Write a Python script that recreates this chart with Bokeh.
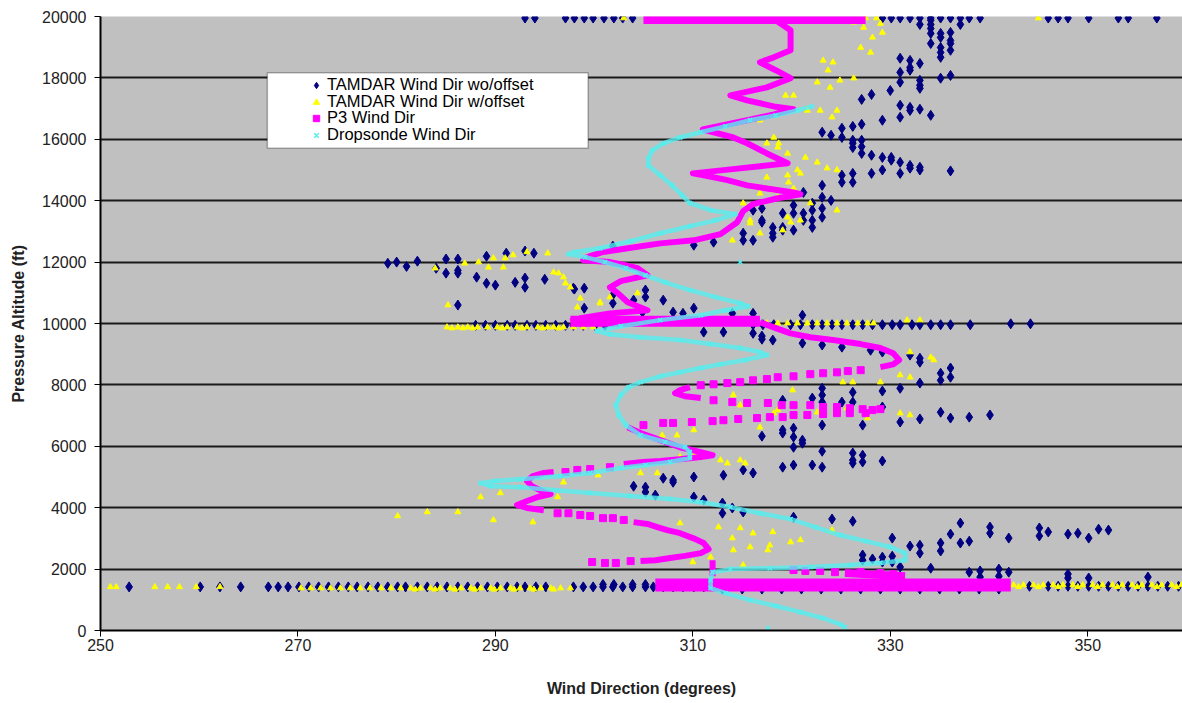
from bokeh.plotting import figure
from bokeh.models import (Range1d, FixedTicker, Legend, LegendItem, BoxAnnotation,
                          ColumnDataSource)
from bokeh.embed import file_html
from bokeh.resources import INLINE

# ---------------- data (wind direction deg, pressure altitude ft) ----------------
X_TICKS = [250, 270, 290, 310, 330, 350]
Y_TICKS = list(range(0, 20001, 2000))
SERIES_NAMES = ["TAMDAR Wind Dir wo/offset", "TAMDAR Wind Dir w/offset",
                "P3 Wind Dir", "Dropsonde Wind Dir"]

TAMDAR_WO = [
    # 20000 ft row
    (293.0, 19950), (294.0, 19950), (297.1, 19950), (298.0, 19950), (299.0, 19950), (299.9, 19950),
    (301.0, 19950), (302.0, 19950), (302.9, 19950), (303.9, 19950), (329.2, 19950), (330.1, 19950),
    (331.0, 19950), (332.0, 19950), (333.0, 19950), (334.1, 19950), (335.1, 19950), (336.1, 19950),
    (337.1, 19950), (338.0, 19950), (339.1, 19950), (346.0, 19950), (347.0, 19950), (348.0, 19950),
    (350.1, 19950), (353.1, 19950), (354.1, 19950), (357.0, 19950),
    # 12000-20000 ft
    (333.0, 19740), (334.1, 19880), (334.1, 19740), (334.1, 19610), (334.1, 19450), (334.1, 19120),
    (335.1, 19450), (335.1, 19320), (335.1, 18990), (335.1, 18830), (335.1, 18670), (336.1, 19480),
    (336.1, 19220), (336.1, 19120), (336.1, 18900), (337.1, 19740), (331.0, 18640), (331.0, 18180),
    (331.0, 17860), (332.0, 18570), (332.0, 18340), (332.0, 18250), (333.0, 18470), (333.0, 17920),
    (333.0, 17760), (333.0, 17660), (335.1, 17990), (336.1, 18080), (330.0, 17590), (331.0, 17110),
    (332.0, 17040), (332.0, 16940), (333.0, 16980), (334.1, 16780), (331.0, 16720), (329.2, 16620),
    (327.1, 17300), (328.1, 17460),
    (323.1, 16230), (324.0, 16130), (325.1, 16360), (325.1, 16060), (326.2, 16420), (326.2, 15970),
    (326.2, 15870), (326.2, 15730), (327.1, 16490), (327.1, 15970), (327.1, 15760), (327.1, 15540),
    (328.1, 15480), (329.2, 15410), (329.2, 15000), (330.1, 15410), (330.1, 15320), (331.0, 15250),
    (331.0, 14890), (332.0, 15150), (332.0, 15060), (333.0, 15090), (333.0, 15000), (336.1, 14970),
    (325.1, 14830), (325.1, 14600), (326.2, 14890), (326.2, 14600), (328.1, 14890),
    (323.1, 14500), (323.1, 14110), (321.2, 14270), (324.0, 14010), (323.1, 13750), (323.1, 13460),
    (322.1, 13920), (322.1, 13690), (322.1, 13360), (322.1, 13130), (321.2, 13590), (321.2, 13360),
    (320.2, 13850), (320.2, 13590), (320.2, 13040), (319.1, 13590), (319.1, 13130), (319.1, 13040),
    (318.1, 13130), (318.1, 12940), (318.1, 12810), (317.0, 13750), (317.0, 13360), (317.0, 13300),
    (316.1, 13690), (316.1, 12710), (315.1, 12940), (315.1, 12710), (312.1, 12650), (310.1, 12550),
    # 10000-12500 ft, left group
    (279.1, 11960), (280.0, 12000), (281.0, 11860), (282.1, 12030), (284.0, 11800), (285.0, 12100),
    (285.0, 11640), (286.2, 12100), (286.2, 11730), (286.2, 11640), (286.2, 10600), (288.1, 11510),
    (289.1, 12190), (289.1, 11310), (290.0, 11250), (291.1, 12290), (292.0, 11340), (293.0, 12360),
    (293.0, 11480), (293.0, 11180), (293.9, 12290), (295.0, 11440), (298.0, 11120), (299.0, 11150),
    (299.0, 10500), (301.9, 12520), (301.9, 10930), (301.9, 10660), (297.9, 11150), (305.2, 11090),
    (305.2, 10860), (304.0, 10760), (307.0, 10760), (304.9, 10370), (308.0, 10370), (309.0, 10330),
    (310.1, 10500), (314.0, 10330), (316.1, 10330), (321.1, 10270),
    # 10000 ft row
    (288.0, 9940), (289.0, 9940), (290.0, 9940), (291.2, 9940), (292.0, 9940), (293.2, 9940),
    (294.1, 9940), (295.1, 9940), (296.1, 9940), (297.1, 9940), (297.9, 9940), (298.9, 9940),
    (300.1, 9940), (301.1, 9940),
    (316.1, 9960), (317.1, 9960), (318.2, 9960), (319.9, 9960), (320.9, 9960), (322.1, 9960),
    (323.1, 9960), (324.1, 9960), (325.1, 9960), (326.2, 9960), (327.2, 9960), (328.2, 9960),
    (329.2, 9960), (330.2, 9960), (331.0, 9960), (332.2, 9960), (333.0, 9960), (334.1, 9960),
    (335.1, 9960), (336.1, 9960), (338.1, 9960), (342.2, 9990), (344.2, 9990),
    # 5000-10000 ft
    (311.1, 9720), (313.1, 9720), (316.1, 9680), (317.0, 9590), (317.0, 9490), (318.1, 9460),
    (321.1, 9360), (323.1, 9300), (325.1, 9230), (328.0, 9130), (329.2, 9070), (332.0, 8970),
    (333.0, 8870), (333.0, 8740), (335.1, 8380), (335.1, 8150), (336.1, 8550), (336.1, 8250),
    (333.0, 8060), (331.0, 7890), (329.2, 7800), (326.2, 7760), (326.2, 7440), (323.1, 7890),
    (323.1, 7670), (323.1, 7440), (322.1, 7570), (319.1, 7500), (325.1, 7440), (329.2, 7280),
    (331.0, 6790), (333.0, 6890), (335.1, 7110), (336.1, 6920), (338.0, 6950), (340.1, 7020),
    (317.0, 6330), (319.1, 6530), (319.1, 6430), (320.2, 6590), (320.2, 6300), (320.2, 5970),
    (321.1, 6200), (321.1, 6100), (323.1, 6690), (323.1, 5840), (327.2, 6690),
    (319.1, 5320), (320.2, 5390), (322.1, 5390), (323.1, 5320), (326.2, 5780), (326.2, 5550),
    (326.2, 5450), (327.2, 5710), (327.2, 5490), (329.2, 5520), (313.1, 5060), (315.1, 5230),
    (316.1, 5130),
    # 2000-5000 ft
    (307.0, 4960), (308.0, 4900), (310.1, 5000), (304.0, 4700), (305.2, 4670), (305.2, 4510),
    (306.2, 4410), (308.0, 4830), (310.1, 4350), (311.1, 4250), (313.0, 4150), (313.0, 3820),
    (314.0, 3990), (315.1, 3860), (320.2, 3690), (324.1, 3630), (326.2, 3560),
    (327.2, 2460), (327.2, 2290), (328.2, 2330), (329.2, 2390), (329.2, 2230), (330.2, 2420),
    (330.2, 2230), (330.2, 3010), (332.0, 2750), (333.0, 2780), (333.0, 2520), (335.1, 2850),
    (335.1, 2590), (336.1, 3140), (337.1, 3500), (337.1, 2850), (338.0, 2910), (340.1, 3370),
    (340.1, 3170), (342.0, 3010), (345.1, 3340), (345.1, 3080), (346.0, 3210), (348.0, 3140),
    (349.0, 3170), (350.1, 3010), (351.1, 3300), (352.1, 3270),
    (331.0, 2070), (334.1, 2030), (338.0, 1900), (339.1, 1940), (339.1, 1740), (341.0, 2000),
    (341.0, 1770), (342.0, 1900), (348.0, 1840), (348.0, 1710), (350.1, 1710), (356.1, 1740),
    # 1400 ft row
    (252.9, 1420), (260.1, 1420), (262.1, 1420), (264.2, 1420), (267.0, 1420), (268.0, 1420),
    (269.0, 1420), (270.1, 1420), (271.1, 1420), (272.1, 1420), (273.1, 1420), (274.1, 1420),
    (275.1, 1420), (276.0, 1420), (277.1, 1420), (278.1, 1420), (279.1, 1420), (280.1, 1420),
    (280.9, 1420), (282.1, 1420), (283.1, 1420), (284.1, 1420), (285.1, 1420), (286.2, 1420),
    (287.2, 1420), (288.2, 1420), (289.2, 1420), (290.2, 1420), (291.2, 1420), (292.2, 1420),
    (293.0, 1420), (294.1, 1420), (295.1, 1420), (297.9, 1420), (298.9, 1420), (299.9, 1420),
    (300.9, 1420), (301.9, 1420), (302.9, 1420), (303.9, 1420), (305.2, 1420), (306.0, 1420),
    (307.0, 1420), (308.0, 1420), (309.0, 1420), (310.1, 1420), (311.1, 1420),
    (300.9, 1500), (302.0, 1500), (303.9, 1500), (305.2, 1500),
    (313.0, 1350), (315.0, 1350), (317.0, 1350), (319.0, 1350), (321.0, 1350), (323.0, 1350),
    (325.0, 1350), (327.0, 1350), (329.0, 1350), (331.0, 1350), (333.0, 1350), (335.0, 1350),
    (337.0, 1350), (339.0, 1350), (341.0, 1350),
    (344.1, 1440), (346.0, 1440), (347.0, 1440), (348.0, 1440), (349.0, 1440), (350.1, 1440),
    (351.1, 1440), (352.1, 1440), (353.1, 1440), (354.1, 1440), (355.1, 1440), (356.1, 1440),
    (357.1, 1440), (358.1, 1440), (359.2, 1440),
]

TAMDAR_W = [
    (303.0, 19950), (327.5, 19950), (328.6, 19950), (345.0, 19950),
    (326.7, 19900), (326.3, 19810), (327.3, 19640), (328.2, 19320), (329.2, 19480), (329.0, 19770),
    (327.0, 18990), (328.0, 18830), (323.2, 18570), (324.2, 18510), (323.7, 18250), (324.9, 17920),
    (323.9, 17690), (326.3, 17990), (322.6, 17860), (320.2, 17430), (319.4, 17430), (321.6, 16940),
    (322.9, 16940), (324.6, 16940), (324.1, 16720), (316.8, 16620), (318.2, 16060), (317.5, 15870),
    (318.7, 15870), (321.4, 15410), (322.6, 15250), (318.6, 15740), (319.6, 15540), (323.6, 15060),
    (324.6, 15000), (320.9, 14890), (319.7, 14600), (316.8, 14240), (318.6, 14110), (321.9, 13920),
    (324.6, 13690), (315.8, 13360), (316.8, 12940), (314.0, 12710), (319.6, 13460), (320.9, 13360),
    (317.5, 14760), (319.6, 14830), (320.6, 15000), (318.2, 14340), (320.2, 14400), (315.1, 13920),
    (315.8, 13270), (319.1, 13040), (319.9, 13300),
    (296.9, 11510), (297.6, 11180), (300.6, 10660), (301.6, 10860), (304.4, 10990), (286.9, 11960),
    (288.3, 12000), (289.3, 11830), (289.8, 12130), (291.0, 12130), (291.8, 12230), (290.8, 11830),
    (293.2, 12330), (295.3, 12290), (295.9, 11670), (296.4, 11640), (297.1, 11310), (298.3, 10530),
    (298.6, 10820), (300.6, 10690), (285.2, 10600), (283.9, 11800),
    (285.1, 9880), (286.2, 9880), (287.2, 9880), (288.2, 9880), (289.2, 9880), (290.2, 9880),
    (291.2, 9880), (292.2, 9880), (293.2, 9880), (294.3, 9880), (295.3, 9880), (295.9, 9880),
    (296.9, 9880), (297.9, 9880), (298.9, 9880), (299.9, 9880),
    (285.6, 9850), (286.7, 9850), (287.7, 9850), (290.7, 9850), (292.7, 9850), (294.8, 9850),
    (296.4, 9850),
    (317.5, 10010), (318.6, 10010), (319.6, 10010), (320.6, 10010), (321.6, 10010), (322.6, 10010),
    (323.6, 10010), (324.6, 10010), (325.6, 10010), (326.7, 10010), (327.7, 10010), (328.3, 10010),
    (331.7, 10110), (333.0, 10110),
    (332.0, 9070), (334.1, 8900), (334.4, 8810), (331.0, 8320), (332.0, 8250), (329.0, 8090),
    (326.2, 8090), (320.1, 7830), (331.0, 7080), (332.0, 7020), (318.2, 7080), (316.8, 6620),
    (327.7, 6920), (312.8, 5550), (314.8, 5550), (313.5, 5450), (325.2, 8090), (322.6, 7110),
    (325.6, 7240), (318.6, 7180), (314.8, 7340), (314.1, 7670), (310.1, 6530), (306.9, 6360),
    (308.4, 6360), (311.1, 5710), (315.3, 5450),
    (312.6, 3370), (314.0, 3010), (314.8, 3340), (315.8, 2720), (317.8, 2780), (319.9, 2880),
    (320.9, 2950), (324.1, 3270), (308.7, 3500), (316.1, 3170), (318.1, 3210), (317.6, 2620),
    (314.1, 2620), (311.8, 2390), (310.0, 2230), (315.1, 2130), (280.1, 3730), (283.1, 3860),
    (286.2, 3860), (288.5, 4350), (289.8, 3600), (290.5, 4480), (293.8, 3530), (296.9, 4830),
    (296.3, 4350), (300.4, 5060), (304.7, 5130), (306.4, 5130), (308.7, 5650), (310.1, 5710),
    (251.0, 1420), (251.6, 1420), (255.5, 1420), (256.8, 1420), (258.0, 1420), (259.7, 1420),
    (262.1, 1420),
    (270.3, 1380), (271.3, 1380), (272.3, 1380), (273.3, 1380), (274.3, 1380), (275.3, 1380),
    (276.3, 1380), (277.3, 1380), (278.4, 1380), (279.4, 1380), (280.4, 1380), (281.4, 1380),
    (282.4, 1380), (283.4, 1380), (284.4, 1380), (285.4, 1380), (286.5, 1380), (287.5, 1380),
    (288.5, 1380), (289.5, 1380), (290.5, 1380), (291.5, 1380), (292.5, 1380), (293.5, 1380),
    (294.6, 1380), (295.6, 1380), (296.6, 1380), (297.6, 1380),
    (281.9, 1340), (283.9, 1340), (285.9, 1340), (287.9, 1340), (289.9, 1340), (291.9, 1340),
    (293.9, 1340), (295.9, 1340),
    (341.5, 1480), (342.5, 1480), (343.5, 1480), (344.5, 1480), (345.5, 1480), (346.5, 1480),
    (347.5, 1480), (348.5, 1480), (349.5, 1480), (350.5, 1480), (351.5, 1480), (352.5, 1480),
    (353.5, 1480), (354.5, 1480), (355.5, 1480), (356.5, 1480), (357.5, 1480), (358.5, 1480),
    (359.5, 1480),
    (343.0, 1420), (345.0, 1420), (347.0, 1420), (349.0, 1420), (351.0, 1420), (353.0, 1420),
    (355.0, 1420), (357.0, 1420), (359.0, 1420),
]

# P3 aircraft: continuous (dense) track pieces and isolated samples
P3_TRACKS = [
    [(305.0, 19900), (327.5, 19900)],
    [(318.4, 19880), (319.9, 19550), (319.9, 18900), (318.2, 18670), (316.8, 18510), (318.4, 18250),
     (319.9, 17990), (317.5, 17690), (313.8, 17430), (315.5, 17270), (318.2, 17070), (320.2, 16980),
     (318.2, 16810), (315.5, 16620), (311.0, 16320), (314.1, 16060), (315.5, 15870), (317.5, 15540),
     (319.6, 15220), (316.8, 15120), (313.8, 15020), (310.0, 14890), (311.1, 14830), (313.5, 14670),
     (315.5, 14500), (317.5, 14400), (320.2, 14270), (320.9, 14210), (318.6, 14080), (316.1, 13890),
     (315.1, 13660), (314.5, 13300), (312.8, 12910), (310.1, 12710), (306.7, 12610), (303.4, 12450),
     (300.9, 12330), (299.3, 12160), (298.9, 12060), (301.6, 12000), (302.7, 11930), (304.4, 11800),
     (305.4, 11570), (302.7, 11380), (301.6, 11180), (302.4, 10990), (303.4, 10690), (305.4, 10430),
     (301.6, 10330), (298.6, 10170), (297.6, 10070)],
    [(297.6, 10070), (316.8, 10070)],
    [(316.8, 10040), (318.4, 9850), (319.9, 9680), (321.9, 9550), (324.2, 9460), (327.0, 9330),
     (329.0, 9200), (330.3, 9030), (330.9, 8810), (330.3, 8670), (329.0, 8580)],
    [(309.7, 7930), (308.7, 7830), (308.2, 7730), (309.2, 7630), (310.8, 7570)],
    [(303.4, 6620), (304.7, 6430), (306.7, 6200), (308.7, 5970), (310.8, 5810), (312.0, 5710),
     (310.8, 5650), (308.7, 5580), (306.7, 5520), (305.0, 5490), (303.0, 5420)],
    [(295.9, 5160), (294.9, 5130), (293.8, 5030), (293.2, 4870), (293.7, 4700), (294.9, 4510),
     (295.6, 4440), (294.3, 4350), (293.2, 4220), (292.2, 4090), (293.2, 3990), (294.9, 3920)],
    [(304.0, 3530), (305.4, 3470), (306.4, 3370), (307.4, 3270), (308.7, 3170), (310.0, 3010),
     (311.1, 2850), (311.6, 2650), (310.8, 2520), (309.2, 2430), (307.7, 2360), (306.2, 2290),
     (304.7, 2260)],
    [(306.2, 1480), (342.2, 1480)],
    [(325.4, 1870), (331.5, 1770)],
    [(312.0, 2290), (312.0, 1770)],
]
P3_TRACK_WIDTHS = [9, 6, 11, 6, 6, 6, 6, 6, 13, 8, 6]

P3_POINTS = [
    (327.0, 8480), (325.7, 8450), (324.6, 8410), (323.2, 8380), (321.9, 8350), (320.2, 8280),
    (318.6, 8250), (317.5, 8190), (316.1, 8150), (314.8, 8090), (313.5, 8060), (312.1, 8020),
    (310.8, 7990),
    (312.1, 7500), (314.0, 7440), (315.5, 7410), (317.6, 7410), (319.0, 7340), (320.2, 7340),
    (321.9, 7340), (323.2, 7280), (324.6, 7280), (325.9, 7240), (327.2, 7210), (328.2, 7180),
    (329.0, 7210),
    (327.5, 7080), (325.9, 7080), (324.6, 7080), (323.2, 7050), (321.6, 7020), (320.2, 7020),
    (319.1, 6950), (317.8, 6950), (316.5, 6920), (314.6, 6890), (313.1, 6850), (312.0, 6820),
    (309.9, 6790), (308.0, 6760), (307.0, 6760), (305.0, 6690),
    (301.6, 5320), (299.6, 5260), (298.3, 5230), (297.1, 5160),
    (296.3, 3820), (297.4, 3820), (298.6, 3760), (299.6, 3730), (300.9, 3660), (301.9, 3660),
    (303.0, 3600),
    (303.7, 2260), (302.2, 2200), (301.1, 2200), (299.8, 2230),
    (320.2, 1970), (321.4, 1940), (322.9, 1940), (324.4, 1900), (327.0, 1900), (329.0, 1870),
    (330.3, 1840),
]

DROPSONDE_TRACK = [
    (322.1, 17070), (320.6, 16940), (318.4, 16780), (315.8, 16620), (313.3, 16420), (310.8, 16230),
    (308.7, 16060), (307.0, 15870), (305.9, 15640), (305.5, 15380), (305.5, 15150), (306.7, 14830),
    (307.9, 14500), (308.9, 14180), (309.7, 13920), (311.8, 13690), (314.3, 13560), (312.3, 13360),
    (309.7, 13170), (306.7, 12940), (303.7, 12680), (300.6, 12450), (298.1, 12330), (297.4, 12260),
    (299.1, 12160), (301.1, 12000), (303.2, 11800), (305.2, 11570), (307.2, 11340), (309.7, 11090),
    (312.3, 10860), (314.8, 10660), (315.6, 10560), (313.3, 10430), (310.8, 10270), (306.7, 10110),
    (302.7, 9910), (300.3, 9750), (301.6, 9650), (304.7, 9550), (308.7, 9460), (311.8, 9330),
    (314.8, 9200), (316.8, 9070), (317.5, 8970), (315.3, 8810), (312.8, 8670), (310.8, 8550),
    (308.7, 8410), (306.7, 8280), (304.7, 8090), (303.5, 7930), (302.7, 7670), (302.2, 7340),
    (302.5, 7020), (303.2, 6690), (304.7, 6360), (307.2, 6140), (309.2, 5970), (309.7, 5810),
    (309.7, 5620), (307.7, 5490), (305.2, 5390), (302.7, 5290), (299.6, 5130), (296.6, 5030),
    (292.5, 4930), (290.0, 4870), (288.5, 4800), (289.5, 4700), (292.5, 4670), (296.1, 4570),
    (299.6, 4480), (303.7, 4380), (307.7, 4280), (310.8, 4180), (313.8, 4020), (316.8, 3820),
    (319.9, 3630), (322.4, 3370), (324.9, 3110), (327.5, 2910), (330.0, 2720), (331.5, 2520),
    (331.5, 2290), (329.0, 2200), (325.9, 2130), (321.9, 2070), (317.8, 2030), (313.8, 2000),
    (312.0, 1900), (311.8, 1640), (311.8, 1380), (313.3, 1220), (315.8, 990), (318.4, 800),
    (320.9, 600), (323.1, 410), (324.9, 210), (325.4, 110),
]
DROPSONDE_POINTS = [(314.8, 12000), (317.6, 80)]

# ---------------- styling ----------------
NAVY = "#000080"
YELLOW = "#FFFF00"
MAGENTA = "#FF00FF"
CYAN = "#55EEEE"
FONT = "Liberation Sans"


def unzip(pts):
    return [a for a, _ in pts], [b for _, b in pts]


p = figure(width=1182, height=703, output_backend="svg", toolbar_location=None,
           x_range=Range1d(250, 359.6), y_range=Range1d(0, 20000),
           min_border_left=100, min_border_right=0, min_border_top=16, min_border_bottom=73)
p.background_fill_color = "#C0C0C0"
p.border_fill_color = "white"
p.outline_line_color = None
p.xgrid.visible = False
p.ygrid.ticker = FixedTicker(ticks=Y_TICKS[1:-1])
p.ygrid.grid_line_color = "#1a1a1a"
p.ygrid.grid_line_width = 2

for ax in (p.xaxis[0], p.yaxis[0]):
    ax.axis_line_color = "black"
    ax.axis_line_width = 2
    ax.major_tick_line_color = "black"
    ax.major_tick_line_width = 1
    ax.major_tick_out = 6
    ax.major_tick_in = 0
    ax.minor_tick_line_color = None
    ax.major_label_text_font = FONT
    ax.major_label_text_font_size = "16px"
    ax.major_label_text_color = "#222222"
    ax.axis_label_text_font = FONT
    ax.axis_label_text_font_size = "16px"
    ax.axis_label_text_font_style = "bold"
    ax.axis_label_text_color = "#222222"

p.xaxis.ticker = FixedTicker(ticks=X_TICKS)
p.yaxis.ticker = FixedTicker(ticks=Y_TICKS)
p.xaxis.axis_label = "Wind Direction (degrees)"
p.yaxis.axis_label = "Pressure Altitude (ft)"
p.yaxis.major_label_standoff = 8
p.yaxis.axis_label_standoff = 12
p.xaxis.major_label_standoff = 2
p.xaxis.axis_label_standoff = 26

# TAMDAR wo/offset
x, y = unzip(TAMDAR_WO)
r_navy = p.scatter(x, y, marker="diamond", size=10, fill_color=NAVY, line_color=NAVY)

# TAMDAR w/offset
x, y = unzip(TAMDAR_W)
r_yel = p.scatter(x, y, marker="triangle", size=6, fill_color=YELLOW, line_color=YELLOW)

# P3
xs = [[a for a, _ in seg] for seg in P3_TRACKS]
ys = [[b for _, b in seg] for seg in P3_TRACKS]
src = ColumnDataSource(dict(xs=xs, ys=ys, w=P3_TRACK_WIDTHS))
p.multi_line("xs", "ys", line_width="w", line_color=MAGENTA, line_join="round", source=src)
x, y = unzip(P3_POINTS)
r_p3 = p.scatter(x, y, marker="square", size=7, fill_color=MAGENTA, line_color=MAGENTA)

# Dropsonde
x, y = unzip(DROPSONDE_TRACK)
p.line(x, y, line_width=4.5, line_color=CYAN, line_alpha=0.8, line_join="round")
p.scatter(x, y, marker="x", size=6, line_color=CYAN, line_width=1.5)
x, y = unzip(DROPSONDE_POINTS)
r_drop = p.scatter(x, y, marker="x", size=6, line_color=CYAN, line_width=1.5)

# legend frame + one legend row per series
box = BoxAnnotation(left=266.9, right=299.4, bottom=15710, top=18170,
                    fill_color="white", fill_alpha=1.0, line_color="black", line_width=1.5)
p.add_layout(box)

row_y = [536, 519, 503, 486]
for name, rend, yy in zip(SERIES_NAMES, [r_navy, r_yel, r_p3, r_drop], row_y):
    lg = Legend(items=[LegendItem(label=name, renderers=[rend])],
                location=(208, yy), orientation="vertical",
                glyph_width=16, glyph_height=16, label_height=16, label_width=10,
                spacing=0, padding=0, margin=0, label_standoff=3,
                label_text_font=FONT, label_text_font_size="16.5px", label_text_color="black",
                background_fill_alpha=0, border_line_alpha=0)
    p.add_layout(lg)

open("out.html", "w").write(file_html(p, INLINE))
